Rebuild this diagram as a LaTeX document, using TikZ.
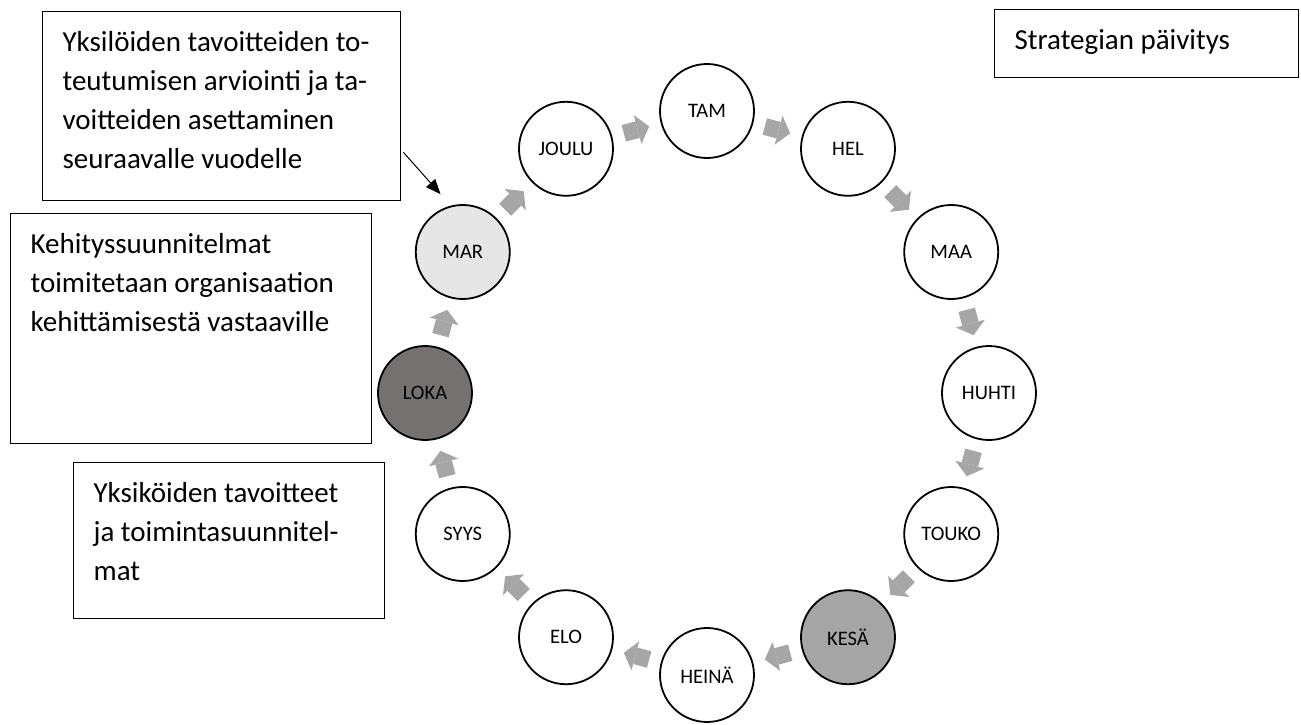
\documentclass[tikz,border=0pt]{standalone}
\usepackage{fontspec}
\setmainfont{Carlito}
\usepackage{tikz}
\usetikzlibrary{shapes, calc, arrows.meta}

\definecolor{vaalea}{HTML}{E7E6E6}
\definecolor{tumma}{HTML}{767171}
\definecolor{keski}{HTML}{A5A5A5}
\definecolor{nuolenharmaa}{HTML}{A6A6A6}

\begin{document}
\begin{tikzpicture}[
	kuukausi/.style={draw, circle, line width=0.9pt, minimum size=47pt, inner sep=0pt,
		font=\fontsize{10.3}{12}\selectfont},
	nuoli/.style={line width=8.5pt, draw=nuolenharmaa,
		-{Triangle[width=15pt, length=6pt, line width=0pt]}},
	laatikko/.style={draw, line width=0.6pt, anchor=north west, inner sep=10pt,
		font=\fontsize{14.5}{19.4}\selectfont}
]
	\def \n {12}
	\def \radius {141pt}

	\useasboundingbox (-353.5pt,-165.5pt) rectangle (297pt,196.5pt);

	% kuukaudet
	\node[kuukausi] (tam)   at ({90 - 360/\n * 0}:\radius)  {TAM};
	\node[kuukausi] (hel)   at ({90 - 360/\n * 1}:\radius)  {HEL};
	\node[kuukausi] (maa)   at ({90 - 360/\n * 2}:\radius)  {MAA};
	\node[kuukausi] (huhti) at ({90 - 360/\n * 3}:\radius)  {HUHTI};
	\node[kuukausi] (touko) at ({90 - 360/\n * 4}:\radius)  {TOUKO};
	\node[kuukausi, fill=keski] (kesa) at ({90 - 360/\n * 5}:\radius)
		{KESÄ};
	\node[kuukausi] (heina) at ({90 - 360/\n * 6}:\radius)  {HEINÄ};
	\node[kuukausi] (elo)   at ({90 - 360/\n * 7}:\radius)  {ELO};
	\node[kuukausi] (syys)  at ({90 - 360/\n * 8}:\radius)  {SYYS};
	\node[kuukausi, fill=tumma] (loka) at ({90 - 360/\n * 9}:\radius)
		{LOKA};
	\node[kuukausi, fill=vaalea] (mar) at ({90 - 360/\n * 10}:\radius)
		{MAR};
	\node[kuukausi] (joulu) at ({90 - 360/\n * 11}:\radius) {JOULU};

	% nuolet
	\draw[nuoli] ($(joulu)!0.41!(tam)$)   -- ($(joulu)!0.59!(tam)$);
	\draw[nuoli] ($(tam)!0.41!(hel)$)     -- ($(tam)!0.59!(hel)$);
	\draw[nuoli] ($(hel)!0.41!(maa)$)     -- ($(hel)!0.59!(maa)$);
	\draw[nuoli] ($(maa)!0.41!(huhti)$)   -- ($(maa)!0.59!(huhti)$);
	\draw[nuoli] ($(huhti)!0.41!(touko)$) -- ($(huhti)!0.59!(touko)$);
	\draw[nuoli] ($(touko)!0.41!(kesa)$)  -- ($(touko)!0.59!(kesa)$);
	\draw[nuoli] ($(kesa)!0.41!(heina)$)  -- ($(kesa)!0.59!(heina)$);
	\draw[nuoli] ($(heina)!0.41!(elo)$)   -- ($(heina)!0.59!(elo)$);
	\draw[nuoli] ($(elo)!0.41!(syys)$)    -- ($(elo)!0.59!(syys)$);
	\draw[nuoli] ($(syys)!0.41!(loka)$)   -- ($(syys)!0.59!(loka)$);
	\draw[nuoli] ($(loka)!0.41!(mar)$)    -- ($(loka)!0.59!(mar)$);
	\draw[nuoli] ($(mar)!0.41!(joulu)$)   -- ($(mar)!0.59!(joulu)$);

	% tekstilaatikot
	\node[laatikko] (yksilot) at (-332.5pt,191pt)
		{\parbox[t][74.5pt][t]{159pt}{\raggedright Yksilöiden tavoitteiden to-\\
		teutumisen arviointi ja ta-\\voitteiden asettaminen\\seuraavalle vuodelle}};
	\node[laatikko] (kehitys) at (-348.5pt,90pt)
		{\parbox[t][95pt][t]{160.5pt}{\raggedright Kehityssuunnitelmat\\
		toimitetaan organisaation\\kehittämisestä vastaaville}};
	\node[laatikko] (yksikot) at (-317pt,-34.5pt)
		{\parbox[t][58pt][t]{135.5pt}{\raggedright Yksiköiden tavoitteet\\
		ja toimintasuunnitel-\\mat}};
	\node[laatikko] (strategia) at (143.5pt,192pt)
		{\parbox[t][14pt][t]{132pt}{\raggedright Strategian päivitys}};

	\draw[-{Triangle[width=6pt, length=7.5pt]}, line width=0.5pt]
		([xshift=1pt, yshift=-23pt]yksilot.east) -- ([shift={(111:7pt)}]mar.111);
\end{tikzpicture}
\end{document}
